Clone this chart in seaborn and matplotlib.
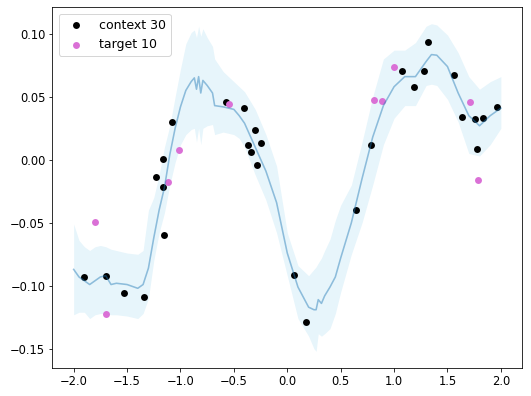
import numpy as np
import pandas as pd
import matplotlib
matplotlib.use("Agg")
import matplotlib.pyplot as plt
import seaborn as sns

# pontos de contexto (30) e alvo (10)
context_x = [-1.899, -1.696, -1.525, -1.338, -1.226, -1.161, -1.161, -1.154, -1.082,
             -0.578, -0.404, -0.366, -0.341, -0.301, -0.285, -0.250,
             0.064, 0.179, 0.640, 0.780, 1.070, 1.185, 1.279, 1.316,
             1.559, 1.634, 1.759, 1.778, 1.836, 1.967]
context_y = [-0.0929, -0.0921, -0.1057, -0.1092, -0.0138, 0.0006, -0.0213, -0.0599, 0.0296,
             0.0461, 0.0413, 0.0114, 0.0064, 0.0240, -0.0040, 0.0136,
             -0.0911, -0.1291, -0.0402, 0.0114, 0.0705, 0.0580, 0.0705, 0.0932,
             0.0673, 0.0338, 0.0327, 0.0088, 0.0333, 0.0415]

target_x = [-1.799, -1.696, -1.114, -1.011, -0.544, 0.808, 0.886, 0.995, 1.715, 1.787]
target_y = [-0.0495, -0.1222, -0.0173, 0.0080, 0.0445, 0.0474, 0.0463, 0.0740, 0.0461, -0.0157]

# curva media e faixa de incerteza
grid_x = [-2.00, -1.95, -1.90, -1.85, -1.80, -1.75, -1.70, -1.65, -1.60, -1.50,
          -1.40, -1.35, -1.30, -1.25, -1.20, -1.15, -1.10, -1.05, -1.00, -0.95,
          -0.90, -0.87, -0.85, -0.83, -0.81, -0.79, -0.75, -0.70, -0.68, -0.60,
          -0.50, -0.45, -0.40, -0.30, -0.20, -0.10, 0.00, 0.10, 0.20, 0.25,
          0.27, 0.29, 0.32, 0.35, 0.40, 0.45, 0.50, 0.60, 0.70, 0.80,
          0.90, 1.00, 1.10, 1.20, 1.30, 1.35, 1.40, 1.50, 1.60, 1.70,
          1.80, 1.90, 2.00]
mean_y = [-0.087, -0.093, -0.096, -0.099, -0.096, -0.093, -0.092, -0.099, -0.098, -0.099,
          -0.102, -0.099, -0.086, -0.062, -0.040, -0.022, 0.004, 0.025, 0.042, 0.055,
          0.062, 0.065, 0.056, 0.066, 0.053, 0.063, 0.059, 0.053, 0.043, 0.042,
          0.040, 0.035, 0.029, 0.010, -0.009, -0.034, -0.074, -0.101, -0.117, -0.119,
          -0.119, -0.111, -0.114, -0.108, -0.101, -0.093, -0.078, -0.050, -0.015, 0.018,
          0.043, 0.058, 0.066, 0.066, 0.078, 0.0835, 0.083, 0.074, 0.053, 0.035,
          0.027, 0.035, 0.041]
lower_y = [-0.123, -0.121, -0.121, -0.126, -0.123, -0.122, -0.122, -0.123, -0.123, -0.124,
           -0.126, -0.122, -0.110, -0.080, -0.058, -0.042, -0.020, -0.002, 0.012, 0.020,
           0.024, 0.025, 0.014, 0.025, 0.012, 0.025, 0.027, 0.028, 0.020, 0.022,
           0.020, 0.017, 0.010, -0.012, -0.032, -0.058, -0.092, -0.126, -0.140, -0.150,
           -0.152, -0.138, -0.140, -0.138, -0.134, -0.122, -0.105, -0.075, -0.050, -0.020,
           0.012, 0.033, 0.043, 0.043, 0.059, 0.060, 0.059, 0.048, 0.030, 0.005,
           0.003, 0.012, 0.025]
upper_y = [-0.051, -0.064, -0.069, -0.072, -0.069, -0.068, -0.069, -0.071, -0.072, -0.074,
           -0.075, -0.072, -0.040, -0.030, -0.012, 0.010, 0.027, 0.050, 0.072, 0.092,
           0.101, 0.103, 0.097, 0.106, 0.098, 0.104, 0.097, 0.090, 0.080, 0.070,
           0.062, 0.058, 0.054, 0.040, 0.020, -0.005, -0.058, -0.084, -0.092, -0.087,
           -0.085, -0.082, -0.078, -0.072, -0.063, -0.048, -0.036, -0.020, 0.014, 0.050,
           0.080, 0.087, 0.087, 0.093, 0.106, 0.108, 0.107, 0.099, 0.085, 0.066,
           0.056, 0.062, 0.066]

df_ctx = pd.DataFrame({"x": context_x, "y": context_y})
df_tgt = pd.DataFrame({"x": target_x, "y": target_y})
df_pred = pd.DataFrame({"x": grid_x, "mean": mean_y, "lo": lower_y, "hi": upper_y})

plt.rcParams["font.size"] = 11.5

fig = plt.figure(figsize=(531 / 72, 396 / 72), dpi=72)
ax = fig.add_axes([0.0985, 0.0715, 0.885, 0.91])

ax.fill_between(df_pred["x"], df_pred["lo"], df_pred["hi"], color="skyblue", alpha=0.2, linewidth=0)
sns.lineplot(data=df_pred, x="x", y="mean", color="tab:blue", alpha=0.45, linewidth=1.6, ax=ax)
sns.scatterplot(data=df_ctx, x="x", y="y", color="black", s=48, linewidth=0, label="context 30", ax=ax)
sns.scatterplot(data=df_tgt, x="x", y="y", color="orchid", s=48, linewidth=0, label="target 10", ax=ax)

ax.set_xlabel("")
ax.set_ylabel("")
ax.set_xticks([-2.0, -1.5, -1.0, -0.5, 0.0, 0.5, 1.0, 1.5, 2.0])
ax.set_yticks([-0.15, -0.10, -0.05, 0.00, 0.05, 0.10])
ax.legend(loc="upper left", fontsize=12.5)

fig.savefig("out.png", dpi=72)
